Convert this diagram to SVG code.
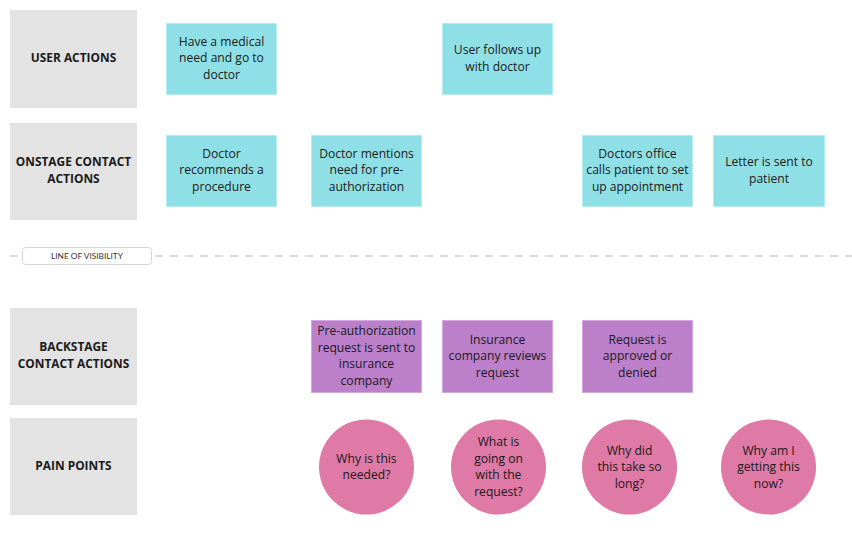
<svg xmlns="http://www.w3.org/2000/svg" width="852" height="534" viewBox="0 0 852 534">
<style>
.lane{fill:#e3e3e3}
.lt{font-family:"Open Sans","Liberation Sans",sans-serif;font-weight:bold;font-size:11.9px;fill:#1a1a1a;text-anchor:middle}
.cy{fill:#8fe0e6;stroke:#b5eef0;stroke-width:1}
.pu{fill:#bc80ca;stroke:#d3a8dc;stroke-width:1}
.pk{fill:#df79a5}
.t{font-family:"Open Sans","Liberation Sans",sans-serif;font-size:12.1px;fill:#1a1a1a;text-anchor:middle}
</style>
<rect width="852" height="534" fill="#ffffff"/>
<g id="lanes">
<g id="lane-user"><rect class="lane" x="10" y="10" width="127" height="98"/><text class="lt" x="73.5" y="62">USER ACTIONS</text></g>
<g id="lane-onstage"><rect class="lane" x="10" y="123" width="127" height="97"/><text class="lt" x="73.5" y="166">ONSTAGE CONTACT</text><text class="lt" x="73.5" y="182.5">ACTIONS</text></g>
<g id="lane-backstage"><rect class="lane" x="10" y="308" width="127" height="97"/><text class="lt" x="73.5" y="351">BACKSTAGE</text><text class="lt" x="73.5" y="367.5">CONTACT ACTIONS</text></g>
<g id="lane-pain"><rect class="lane" x="10" y="418" width="127" height="97"/><text class="lt" x="73.5" y="470">PAIN POINTS</text></g>
</g>
<g id="visibility">
<g id="connectors">
<line x1="10" y1="256" x2="18" y2="256" stroke="#d0d0d0" stroke-width="1.5"/>
<line x1="155" y1="256" x2="852" y2="256" stroke="#d0d0d0" stroke-width="1.5" stroke-dasharray="8 7"/>
</g>
<rect x="22.5" y="247.5" width="129" height="17" rx="3" fill="#ffffff" stroke="#d6d6d6" stroke-width="1"/>
<text x="87" y="259" font-family="Lato,'Liberation Sans',sans-serif" font-size="8.3" fill="#333" text-anchor="middle">LINE OF VISIBILITY</text>
</g>
<g id="n1"><rect class="cy" x="166.5" y="23.5" width="110" height="71"/><text class="t" x="221.5" y="45.5">Have a medical</text><text class="t" x="221.5" y="62">need and go to</text><text class="t" x="221.5" y="78.5">doctor</text></g>
<g id="n2"><rect class="cy" x="442.5" y="23.5" width="110" height="71"/><text class="t" x="497.5" y="54">User follows up</text><text class="t" x="497.5" y="70.5">with doctor</text></g>
<g id="n3"><rect class="cy" x="166.5" y="135.5" width="110" height="71"/><text class="t" x="221.5" y="157.5">Doctor</text><text class="t" x="221.5" y="174">recommends a</text><text class="t" x="221.5" y="190.5">procedure</text></g>
<g id="n4"><rect class="cy" x="311.5" y="135.5" width="110" height="71"/><text class="t" x="366.5" y="157.5">Doctor mentions</text><text class="t" x="366.5" y="174">need for pre-</text><text class="t" x="366.5" y="190.5">authorization</text></g>
<g id="n5"><rect class="cy" x="582.5" y="135.5" width="110" height="71"/><text class="t" x="637.5" y="157.5">Doctors office</text><text class="t" x="637.5" y="174">calls patient to set</text><text class="t" x="637.5" y="190.5">up appointment</text></g>
<g id="n6"><rect class="cy" x="713.5" y="135.5" width="111" height="71"/><text class="t" x="769" y="166">Letter is sent to</text><text class="t" x="769" y="182.5">patient</text></g>
<g id="n7"><rect class="pu" x="311.5" y="320.5" width="110" height="72"/><text class="t" x="366.5" y="335">Pre-authorization</text><text class="t" x="366.5" y="351.5">request is sent to</text><text class="t" x="366.5" y="368">insurance</text><text class="t" x="366.5" y="384.5">company</text></g>
<g id="n8"><rect class="pu" x="442.5" y="320.5" width="110" height="72"/><text class="t" x="497.5" y="343.5">Insurance</text><text class="t" x="497.5" y="360">company reviews</text><text class="t" x="497.5" y="376.5">request</text></g>
<g id="n9"><rect class="pu" x="582.5" y="320.5" width="110" height="72"/><text class="t" x="637.5" y="343.5">Request is</text><text class="t" x="637.5" y="360">approved or</text><text class="t" x="637.5" y="376.5">denied</text></g>
<g id="p1"><circle class="pk" cx="366.5" cy="467" r="47.5"/><text class="t" x="366.5" y="462.5">Why is this</text><text class="t" x="366.5" y="479">needed?</text></g>
<g id="p2"><circle class="pk" cx="498.5" cy="467" r="47.5"/><text class="t" x="498.5" y="446">What is</text><text class="t" x="498.5" y="462.5">going on</text><text class="t" x="498.5" y="479">with the</text><text class="t" x="498.5" y="495.5">request?</text></g>
<g id="p3"><circle class="pk" cx="629.5" cy="467" r="47.5"/><text class="t" x="629.5" y="454.5">Why did</text><text class="t" x="629.5" y="471">this take so</text><text class="t" x="629.5" y="487.5">long?</text></g>
<g id="p4"><circle class="pk" cx="768.5" cy="467" r="47.5"/><text class="t" x="768.5" y="454.5">Why am I</text><text class="t" x="768.5" y="471">getting this</text><text class="t" x="768.5" y="487.5">now?</text></g>
</svg>
